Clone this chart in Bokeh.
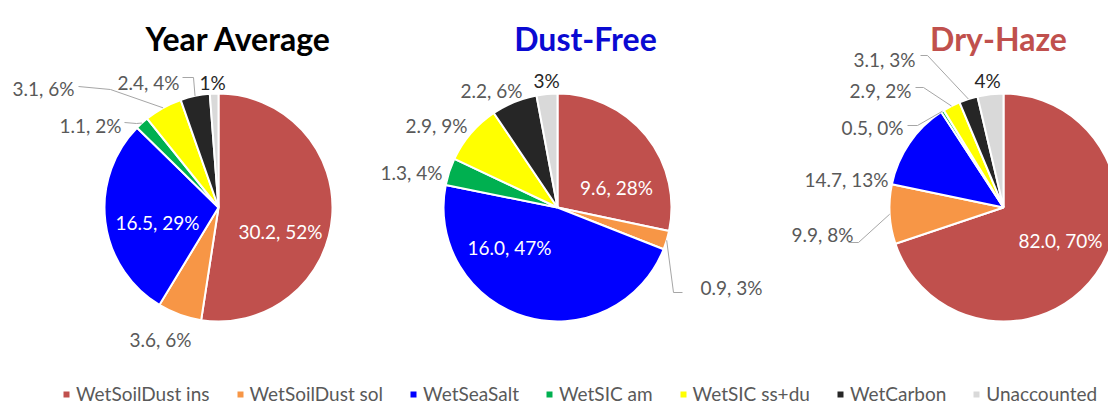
import numpy as np
from bokeh.plotting import figure
from bokeh.models import ColumnDataSource, Legend, LegendItem, Range1d
from bokeh.core.properties import value
from bokeh.embed import file_html
from bokeh.resources import INLINE

# ---------------- data ----------------
categories = ["WetSoilDust ins", "WetSoilDust sol", "WetSeaSalt", "WetSIC am",
              "WetSIC ss+du", "WetCarbon", "Unaccounted"]
colors = ["#C0504D", "#F79646", "#0000FF", "#00B050", "#FFFF00", "#262626", "#D9D9D9"]

titles = ["Year Average", "Dust-Free", "Dry-Haze"]
title_colors = ["#000000", "#0A0AD2", "#C0504D"]

year_average = [30.2, 3.6, 16.5, 1.1, 3.1, 2.4, 0.7]
dust_free = [9.6, 0.9, 16.0, 1.3, 2.9, 2.2, 1.0]
dry_haze = [82.0, 9.9, 14.7, 0.5, 2.9, 3.1, 4.3]

year_average_labels = ["30.2, 52%", "3.6, 6%", "16.5, 29%", "1.1, 2%", "3.1, 6%", "2.4, 4%", "1%"]
dust_free_labels = ["9.6, 28%", "0.9, 3%", "16.0, 47%", "1.3, 4%", "2.9, 9%", "2.2, 6%", "3%"]
dry_haze_labels = ["82.0, 70%", "9.9, 8%", "14.7, 13%", "0.5, 0%", "2.9, 2%", "3.1, 3%", "4%"]

series = [year_average, dust_free, dry_haze]
series_labels = [year_average_labels, dust_free_labels, dry_haze_labels]

# ---------------- layout (pixels, screen offsets from pie centre, y down) ----------------
W, H = 1108, 406
pie_cx = [218, 557, 1003]
pie_cy = 207
R = 114
title_dx = [20, 28, -5]
title_base = 38

label_offsets = [
    [(62, 17), (-58, 125), (-61, 8), (-128, -89), (-175, -126), (-70, -132), (-6, -132)],
    [(59, -27), (174, 73), (-48, 33), (-146, -42), (-121, -89), (-66, -124), (-11, -134)],
    [(57, 26), (-181, 20), (-157, -35), (-131, -87), (-123, -124), (-119, -155), (-16, -134)],
]
inside = [[0, 2], [0, 2], [0]]
# (pie, slice, start offset near label, elbow offset)
leaders = [
    (0, 3, (-94, -85), (-82, -84)),
    (0, 4, (-140, -121), (-108, -118)),
    (0, 5, (-36, -130), (-25, -130)),
    (1, 1, (125, 85), (116, 85)),
    (2, 1, (-155, 35), (-145, 35)),
    (2, 3, (-96, -82), (-86, -82)),
    (2, 4, (-88, -120), (-80, -120)),
    (2, 5, (-83, -152), (-76, -152)),
]

FONT = "Lato"
LABEL_SIZE = 19


def sx(x):
    return x


def sy(y):
    return H - y


p = figure(width=W, height=H, output_backend="svg", toolbar_location=None,
           x_range=Range1d(0, W), y_range=Range1d(0, H),
           x_axis_location=None, y_axis_location=None, title=None,
           min_border=0, outline_line_color=None, background_fill_color="white")
p.grid.visible = False

renderers = []
mid_angles = []
for k, vals in enumerate(series):
    v = np.array(vals, dtype=float)
    frac = v / v.sum()
    a1 = np.cumsum(frac)
    a0 = a1 - frac
    start = np.pi / 2 - 2 * np.pi * a1
    end = np.pi / 2 - 2 * np.pi * a0
    mid_angles.append(2 * np.pi * (a0 + a1) / 2)
    src = ColumnDataSource(dict(x=[sx(pie_cx[k])] * len(v), y=[sy(pie_cy)] * len(v),
                                start=start, end=end, color=colors, name=categories))
    r = p.wedge(x="x", y="y", radius=R, start_angle="start", end_angle="end",
                fill_color="color", line_color="white", line_width=2, source=src)
    renderers.append(r)

    # labels
    lx, ly, lt, lc = [], [], [], []
    for i, txt in enumerate(series_labels[k]):
        dx, dy = label_offsets[k][i]
        lx.append(sx(pie_cx[k] + dx))
        ly.append(sy(pie_cy + dy + 7))
        lt.append(txt)
        if i in inside[k]:
            lc.append("#FFFFFF")
        elif i == len(categories) - 1:
            lc.append("#262626")
        else:
            lc.append("#595959")
    p.text(x=lx, y=ly, text=lt, text_color=lc, text_font=value(FONT),
           text_font_size=f"{LABEL_SIZE}px", text_align="center", text_baseline="alphabetic")

    # title
    p.text(x=[sx(pie_cx[k] + title_dx[k])], y=[sy(title_base)], text=[titles[k]],
           text_color=title_colors[k], text_font=value(FONT), text_font_style="bold",
           text_font_size="32px", text_align="center", text_baseline="alphabetic")

# leader lines
xs, ys = [], []
for k, i, st, el in leaders:
    th = mid_angles[k][i]
    ax = pie_cx[k] + R * np.sin(th)
    ay = pie_cy - R * np.cos(th)
    xs.append([sx(pie_cx[k] + st[0]), sx(pie_cx[k] + el[0]), sx(ax)])
    ys.append([sy(pie_cy + st[1]), sy(pie_cy + el[1]), sy(ay)])
p.multi_line(xs=xs, ys=ys, line_color="#A6A6A6", line_width=1)

legend = Legend(items=[LegendItem(label=c, renderers=[renderers[0]], index=i)
                       for i, c in enumerate(categories)],
                orientation="horizontal", location=(61, 1),
                glyph_width=10, glyph_height=10, label_standoff=5, spacing=25,
                label_height=18, padding=0, margin=0,
                label_text_font=FONT, label_text_font_size="19px",
                label_text_color="#595959",
                background_fill_alpha=0, border_line_alpha=0)
p.add_layout(legend)

open("out.html", "w").write(file_html(p, INLINE))
